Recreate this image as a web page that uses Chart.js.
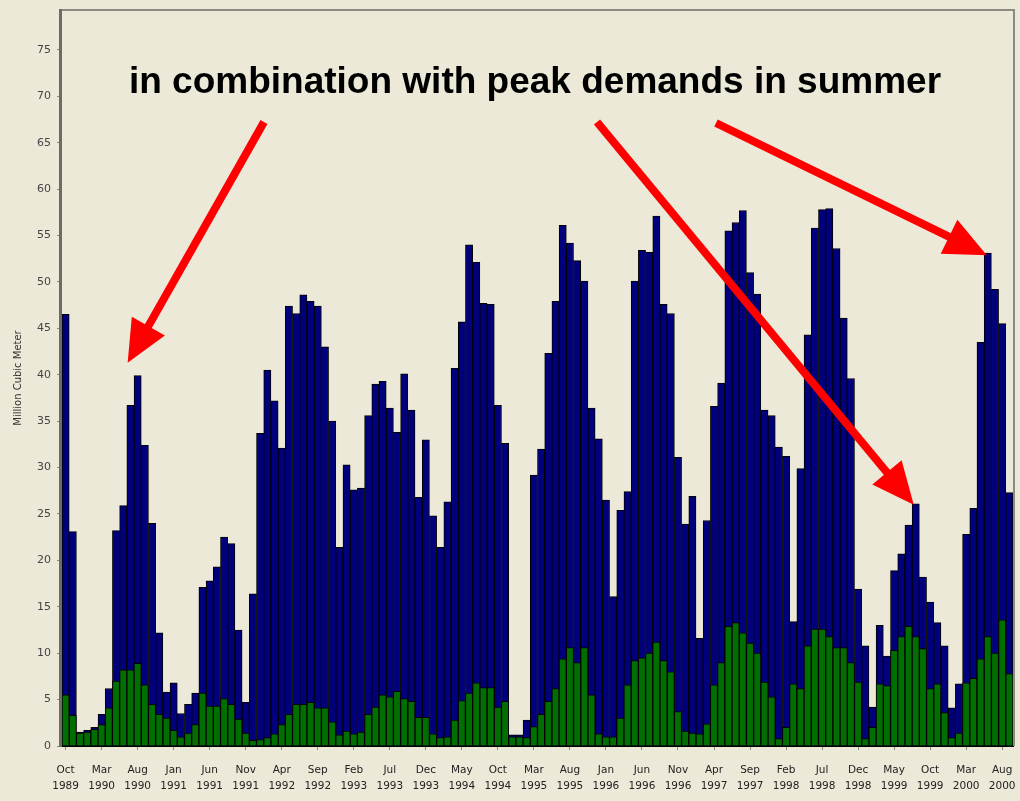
<!DOCTYPE html>
<html>
<head>
<meta charset="utf-8">
<script src="https://cdn.jsdelivr.net/npm/chart.js@4.4.0/dist/chart.umd.min.js"></script>
<style>
  html, body { margin: 0; padding: 0; background: #ece9d8; }
  #chart { display: block; }
</style>
</head>
<body>
<canvas id="chart" width="1020" height="801"></canvas>
<script>
const monthNames = ['Jan', 'Feb', 'Mar', 'Apr', 'May', 'Jun', 'Jul', 'Aug', 'Sep', 'Oct', 'Nov', 'Dec'];
const firstMonth = 9;      // October
const firstYear = 1989;
const monthCount = 132;    // Oct 1989 .. Sep 2000
const labelEvery = 5;

// blue bars, million cubic meter per month
const totalVolume = [
    46.5, 23.1, 1.5,
    1.7, 2.0, 3.4, 6.2, 23.2, 25.9, 36.7, 39.9, 32.4, 24.0, 12.2, 5.8,
    6.8, 3.5, 4.5, 5.7, 17.1, 17.8, 19.3, 22.5, 21.8, 12.5, 4.7, 16.4,
    33.7, 40.5, 37.2, 32.1, 47.4, 46.6, 48.6, 47.9, 47.4, 43.0, 35.0, 21.4,
    30.3, 27.6, 27.8, 35.6, 39.0, 39.3, 36.4, 33.8, 40.1, 36.2, 26.8, 33.0,
    24.8, 21.4, 26.3, 40.7, 45.7, 54.0, 52.1, 47.7, 47.6, 36.7, 32.6, 1.2,
    1.2, 2.8, 29.2, 32.0, 42.3, 47.9, 56.1, 54.2, 52.3, 50.1, 36.4, 33.1,
    26.5, 16.1, 25.4, 27.4, 50.1, 53.4, 53.2, 57.1, 47.6, 46.6, 31.1, 23.9,
    26.9, 11.6, 24.3, 36.6, 39.1, 55.5, 56.4, 57.7, 51.0, 48.7, 36.2, 35.6,
    32.2, 31.2, 13.4, 29.9, 44.3, 55.8, 57.8, 57.9, 53.6, 46.1, 39.6, 16.9,
    10.8, 4.2, 13.0, 9.7, 18.9, 20.7, 23.8, 26.1, 18.2, 15.5, 13.3, 10.8,
    4.1, 6.7, 22.8, 25.6, 43.5, 53.1, 49.2, 45.5, 27.3
];

// green bars
const greenVolume = [
    5.5, 3.3, 1.4,
    1.5, 1.8, 2.3, 4.1, 7.0, 8.2, 8.2, 8.9, 6.6, 4.5, 3.4, 3.0,
    1.7, 1.0, 1.4, 2.3, 5.7, 4.3, 4.3, 5.1, 4.5, 2.9, 1.4, 0.6,
    0.7, 0.9, 1.3, 2.3, 3.4, 4.5, 4.5, 4.7, 4.1, 4.1, 2.6, 1.2,
    1.6, 1.3, 1.5, 3.4, 4.2, 5.5, 5.3, 5.9, 5.1, 4.8, 3.1, 3.1,
    1.3, 0.9, 1.0, 2.8, 4.9, 5.7, 6.8, 6.3, 6.3, 4.2, 4.8, 1.0,
    1.0, 0.9, 2.1, 3.4, 4.8, 6.2, 9.4, 10.6, 9.0, 10.6, 5.5, 1.3,
    1.0, 1.0, 3.0, 6.6, 9.2, 9.5, 10.0, 11.2, 9.2, 8.0, 3.7, 1.6,
    1.4, 1.3, 2.4, 6.6, 9.0, 12.9, 13.3, 12.2, 11.1, 10.0, 6.9, 5.3,
    0.8, 2.0, 6.7, 6.2, 10.8, 12.6, 12.6, 11.8, 10.6, 10.6, 9.0, 6.9,
    0.8, 2.0, 6.7, 6.5, 10.3, 11.8, 12.9, 11.8, 10.5, 6.2, 6.7, 3.6,
    0.9, 1.4, 6.8, 7.3, 9.4, 11.8, 10.0, 13.6, 7.8
];

const yTicks = [0, 5, 10, 15, 20, 25, 30, 35, 40, 45, 50, 55, 60, 65, 70, 75];
const yMax = 79.3;

const note = 'in combination with peak demands in summer';
// arrows point at bars (index into the series), tail in canvas pixels
const arrows = [
    { tail: [264, 122], bar: 10, dx: -10, dy: -13 },
    { tail: [597, 122], bar: 118, dx: -2, dy: 1 },
    { tail: [716, 123], bar: 128, dx: -1, dy: 2 }
];

const categories = [];
for (let i = 0; i < monthCount; i++) {
    const m = (firstMonth + i) % 12;
    const yr = firstYear + Math.floor((firstMonth + i) / 12);
    categories.push(monthNames[m] + ' ' + yr);
}

const overlay = {
    id: 'overlay',
    afterDraw(chart) {
        const { ctx, chartArea: a, scales: { x, y } } = chart;
        ctx.save();

        // plot frame
        ctx.strokeStyle = '#8c8b82';
        ctx.lineWidth = 2;
        ctx.beginPath();
        ctx.moveTo(a.left, a.top);
        ctx.lineTo(a.right + 1, a.top);
        ctx.lineTo(a.right + 1, a.bottom);
        ctx.stroke();
        ctx.strokeStyle = '#6c6b64';
        ctx.lineWidth = 3;
        ctx.beginPath();
        ctx.moveTo(a.left - 1.5, a.top - 1);
        ctx.lineTo(a.left - 1.5, a.bottom + 1);
        ctx.stroke();

        // headline
        ctx.font = 'bold 37px "Liberation Sans", Arial, sans-serif';
        ctx.fillStyle = '#000';
        ctx.textAlign = 'center';
        ctx.textBaseline = 'alphabetic';
        ctx.fillText(note, 535, 93);

        // arrows
        ctx.strokeStyle = '#ff0000';
        ctx.fillStyle = '#ff0000';
        ctx.lineWidth = 8;
        arrows.forEach(ar => {
            const tipX = x.getPixelForValue(ar.bar) + ar.dx;
            const tipY = y.getPixelForValue(totalVolume[ar.bar]) + ar.dy;
            const [tx, ty] = ar.tail;
            const ang = Math.atan2(tipY - ty, tipX - tx);
            const headLen = 42, headHalf = 19;
            const bx = tipX - headLen * Math.cos(ang);
            const by = tipY - headLen * Math.sin(ang);
            ctx.beginPath();
            ctx.moveTo(tx, ty);
            ctx.lineTo(bx + 2 * Math.cos(ang), by + 2 * Math.sin(ang));
            ctx.stroke();
            ctx.beginPath();
            ctx.moveTo(tipX, tipY);
            ctx.lineTo(bx + headHalf * Math.sin(ang), by - headHalf * Math.cos(ang));
            ctx.lineTo(bx - headHalf * Math.sin(ang), by + headHalf * Math.cos(ang));
            ctx.closePath();
            ctx.fill();
        });
        ctx.restore();
    }
};

new Chart(document.getElementById('chart'), {
    type: 'bar',
    data: {
        labels: categories,
        datasets: [
            {
                label: 'green',
                data: greenVolume,
                backgroundColor: '#006e00',
                borderColor: '#000',
                borderWidth: 1,
                grouped: false,
                barPercentage: 1,
                categoryPercentage: 1
            },
            {
                label: 'total',
                data: totalVolume,
                backgroundColor: '#00007c',
                borderColor: '#000',
                borderWidth: 1,
                grouped: false,
                barPercentage: 1,
                categoryPercentage: 1
            }
        ]
    },
    options: {
        responsive: false,
        animation: false,
        layout: { padding: { top: 10, right: 7, bottom: 0, left: 0 } },
        plugins: {
            legend: { display: false },
            tooltip: { enabled: false }
        },
        scales: {
            x: {
                offset: true,
                afterBuildTicks: s => { s.ticks = s.ticks.filter(t => t.value % labelEvery === 0); },
                afterFit: s => {
                    s.height = 55;
                    s.paddingLeft = 0;
                    s.paddingRight = 0;
                },
                grid: { offset: false, drawOnChartArea: false, tickLength: 4, tickColor: '#8c8b82' },
                border: { color: '#000', width: 2 },
                ticks: {
                    autoSkip: false,
                    maxRotation: 0,
                    padding: 12,
                    color: '#222',
                    font: { family: '"DejaVu Sans", sans-serif', size: 10.5, lineHeight: '16px' },
                    callback(v) { return this.getLabelForValue(v).split(' '); }
                }
            },
            y: {
                min: 0,
                max: yMax,
                afterBuildTicks: s => { s.ticks = yTicks.map(v => ({ value: v })); },
                afterFit: s => {
                    s.width = 62;
                    s.paddingTop = 0;
                    s.paddingBottom = 0;
                },
                grid: { drawOnChartArea: false, tickLength: 5, tickColor: '#8c8b82' },
                border: { display: false },
                ticks: {
                    padding: 6,
                    color: '#444',
                    font: { family: '"DejaVu Sans", sans-serif', size: 11 }
                },
                title: {
                    display: true,
                    text: 'Million Cubic Meter',
                    color: '#333',
                    padding: { top: 12, bottom: 0 },
                    font: { family: '"DejaVu Sans", sans-serif', size: 10 }
                }
            }
        }
    },
    plugins: [overlay]
});
</script>
</body>
</html>
